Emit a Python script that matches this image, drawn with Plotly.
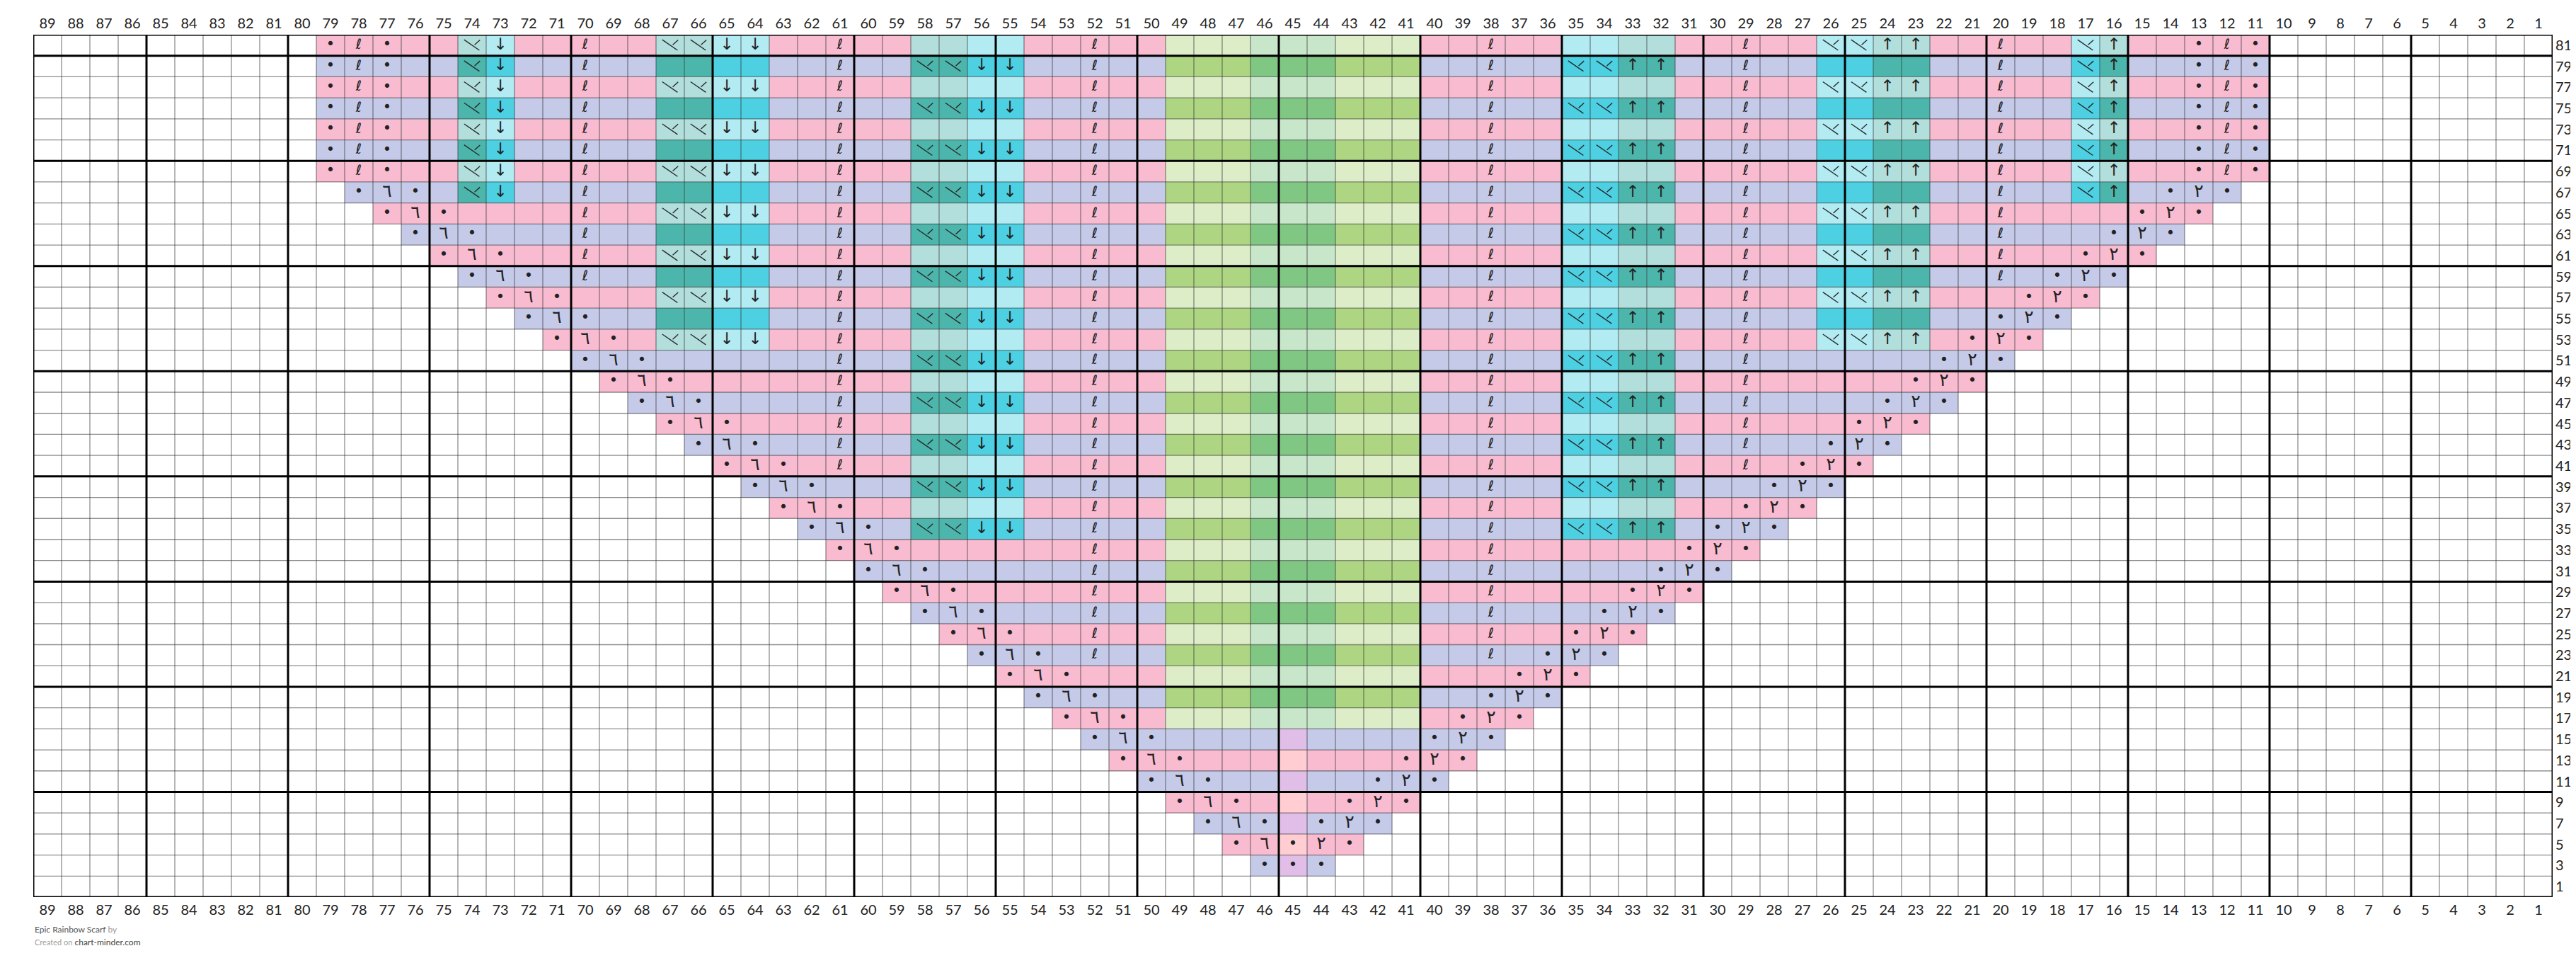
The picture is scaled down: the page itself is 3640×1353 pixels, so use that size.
import plotly.graph_objects as go

# ---------------- data ----------------
N_COLS = 89
COLUMN_LABELS = [str(c) for c in range(1, N_COLS + 1)]
ROW_NUMBERS = list(range(81, 0, -2))          # top -> bottom (odd rows only)

# cell colour codes, one string per row (top row 81 first), columns 89 -> 1,
# spaces only separate the 5-column groups
COLOR_ROWS = [
    ".... ..... .pppp ptcpp ppptt ccppp ppttc cpppp pgggh hhggg ppppp ccttp ppppc cttpp pppct ppppp ..... .....",  # 81
    ".... ..... .llll lTCll lllTT CClll llTTC Cllll lGGGH HHGGG lllll CCTTl llllC CTTll lllCT lllll ..... .....",  # 79
    ".... ..... .pppp ptcpp ppptt ccppp ppttc cpppp pgggh hhggg ppppp ccttp ppppc cttpp pppct ppppp ..... .....",  # 77
    ".... ..... .llll lTCll lllTT CClll llTTC Cllll lGGGH HHGGG lllll CCTTl llllC CTTll lllCT lllll ..... .....",  # 75
    ".... ..... .pppp ptcpp ppptt ccppp ppttc cpppp pgggh hhggg ppppp ccttp ppppc cttpp pppct ppppp ..... .....",  # 73
    ".... ..... .llll lTCll lllTT CClll llTTC Cllll lGGGH HHGGG lllll CCTTl llllC CTTll lllCT lllll ..... .....",  # 71
    ".... ..... .pppp ptcpp ppptt ccppp ppttc cpppp pgggh hhggg ppppp ccttp ppppc cttpp pppct ppppp ..... .....",  # 69
    ".... ..... ..lll lTCll lllTT CClll llTTC Cllll lGGGH HHGGG lllll CCTTl llllC CTTll lllCT llll. ..... .....",  # 67
    ".... ..... ...pp ppppp ppptt ccppp ppttc cpppp pgggh hhggg ppppp ccttp ppppc cttpp ppppp ppp.. ..... .....",  # 65
    ".... ..... ....l lllll lllTT CClll llTTC Cllll lGGGH HHGGG lllll CCTTl llllC CTTll lllll ll... ..... .....",  # 63
    ".... ..... ..... ppppp ppptt ccppp ppttc cpppp pgggh hhggg ppppp ccttp ppppc cttpp ppppp p.... ..... .....",  # 61
    ".... ..... ..... .llll lllTT CClll llTTC Cllll lGGGH HHGGG lllll CCTTl llllC CTTll lllll ..... ..... .....",  # 59
    ".... ..... ..... ..ppp ppptt ccppp ppttc cpppp pgggh hhggg ppppp ccttp ppppc cttpp pppp. ..... ..... .....",  # 57
    ".... ..... ..... ...ll lllTT CClll llTTC Cllll lGGGH HHGGG lllll CCTTl llllC CTTll lll.. ..... ..... .....",  # 55
    ".... ..... ..... ....p ppptt ccppp ppttc cpppp pgggh hhggg ppppp ccttp ppppc cttpp pp... ..... ..... .....",  # 53
    ".... ..... ..... ..... lllll lllll llTTC Cllll lGGGH HHGGG lllll CCTTl lllll lllll l.... ..... ..... .....",  # 51
    ".... ..... ..... ..... .pppp ppppp ppttc cpppp pgggh hhggg ppppp ccttp ppppp ppppp ..... ..... ..... .....",  # 49
    ".... ..... ..... ..... ..lll lllll llTTC Cllll lGGGH HHGGG lllll CCTTl lllll llll. ..... ..... ..... .....",  # 47
    ".... ..... ..... ..... ...pp ppppp ppttc cpppp pgggh hhggg ppppp ccttp ppppp ppp.. ..... ..... ..... .....",  # 45
    ".... ..... ..... ..... ....l lllll llTTC Cllll lGGGH HHGGG lllll CCTTl lllll ll... ..... ..... ..... .....",  # 43
    ".... ..... ..... ..... ..... ppppp ppttc cpppp pgggh hhggg ppppp ccttp ppppp p.... ..... ..... ..... .....",  # 41
    ".... ..... ..... ..... ..... .llll llTTC Cllll lGGGH HHGGG lllll CCTTl lllll ..... ..... ..... ..... .....",  # 39
    ".... ..... ..... ..... ..... ..ppp ppttc cpppp pgggh hhggg ppppp ccttp pppp. ..... ..... ..... ..... .....",  # 37
    ".... ..... ..... ..... ..... ...ll llTTC Cllll lGGGH HHGGG lllll CCTTl lll.. ..... ..... ..... ..... .....",  # 35
    ".... ..... ..... ..... ..... ....p ppppp ppppp pgggh hhggg ppppp ppppp pp... ..... ..... ..... ..... .....",  # 33
    ".... ..... ..... ..... ..... ..... lllll lllll lGGGH HHGGG lllll lllll l.... ..... ..... ..... ..... .....",  # 31
    ".... ..... ..... ..... ..... ..... .pppp ppppp pgggh hhggg ppppp ppppp ..... ..... ..... ..... ..... .....",  # 29
    ".... ..... ..... ..... ..... ..... ..lll lllll lGGGH HHGGG lllll llll. ..... ..... ..... ..... ..... .....",  # 27
    ".... ..... ..... ..... ..... ..... ...pp ppppp pgggh hhggg ppppp ppp.. ..... ..... ..... ..... ..... .....",  # 25
    ".... ..... ..... ..... ..... ..... ....l lllll lGGGH HHGGG lllll ll... ..... ..... ..... ..... ..... .....",  # 23
    ".... ..... ..... ..... ..... ..... ..... ppppp pgggh hhggg ppppp p.... ..... ..... ..... ..... ..... .....",  # 21
    ".... ..... ..... ..... ..... ..... ..... .llll lGGGH HHGGG lllll ..... ..... ..... ..... ..... ..... .....",  # 19
    ".... ..... ..... ..... ..... ..... ..... ..ppp pgggh hhggg pppp. ..... ..... ..... ..... ..... ..... .....",  # 17
    ".... ..... ..... ..... ..... ..... ..... ...ll lllll vllll lll.. ..... ..... ..... ..... ..... ..... .....",  # 15
    ".... ..... ..... ..... ..... ..... ..... ....p ppppp rpppp pp... ..... ..... ..... ..... ..... ..... .....",  # 13
    ".... ..... ..... ..... ..... ..... ..... ..... lllll vllll l.... ..... ..... ..... ..... ..... ..... .....",  # 11
    ".... ..... ..... ..... ..... ..... ..... ..... .pppp rpppp ..... ..... ..... ..... ..... ..... ..... .....",  # 9
    ".... ..... ..... ..... ..... ..... ..... ..... ..lll vlll. ..... ..... ..... ..... ..... ..... ..... .....",  # 7
    ".... ..... ..... ..... ..... ..... ..... ..... ...pp rpp.. ..... ..... ..... ..... ..... ..... ..... .....",  # 5
    ".... ..... ..... ..... ..... ..... ..... ..... ....l vl... ..... ..... ..... ..... ..... ..... ..... .....",  # 3
    ".... ..... ..... ..... ..... ..... ..... ..... ..... ..... ..... ..... ..... ..... ..... ..... ..... .....",  # 1
]

# stitch symbol codes, same layout
SYMBOL_ROWS = [
    ".... ..... .oqo. .kd.. q..kk dd..q ..... ...q. ..... ..... ..q.. ..... .q..K Kuu.. q..Ku ..oqo ..... .....",  # 81
    ".... ..... .oqo. .kd.. q.... ....q ..kkd d..q. ..... ..... ..q.. KKuu. .q... ..... q..Ku ..oqo ..... .....",  # 79
    ".... ..... .oqo. .kd.. q..kk dd..q ..... ...q. ..... ..... ..q.. ..... .q..K Kuu.. q..Ku ..oqo ..... .....",  # 77
    ".... ..... .oqo. .kd.. q.... ....q ..kkd d..q. ..... ..... ..q.. KKuu. .q... ..... q..Ku ..oqo ..... .....",  # 75
    ".... ..... .oqo. .kd.. q..kk dd..q ..... ...q. ..... ..... ..q.. ..... .q..K Kuu.. q..Ku ..oqo ..... .....",  # 73
    ".... ..... .oqo. .kd.. q.... ....q ..kkd d..q. ..... ..... ..q.. KKuu. .q... ..... q..Ku ..oqo ..... .....",  # 71
    ".... ..... .oqo. .kd.. q..kk dd..q ..... ...q. ..... ..... ..q.. ..... .q..K Kuu.. q..Ku ..oqo ..... .....",  # 69
    ".... ..... ..oLo .kd.. q.... ....q ..kkd d..q. ..... ..... ..q.. KKuu. .q... ..... q..Ku .oRo. ..... .....",  # 67
    ".... ..... ...oL o.... q..kk dd..q ..... ...q. ..... ..... ..q.. ..... .q..K Kuu.. q.... oRo.. ..... .....",  # 65
    ".... ..... ....o Lo... q.... ....q ..kkd d..q. ..... ..... ..q.. KKuu. .q... ..... q...o Ro... ..... .....",  # 63
    ".... ..... ..... oLo.. q..kk dd..q ..... ...q. ..... ..... ..q.. ..... .q..K Kuu.. q..oR o.... ..... .....",  # 61
    ".... ..... ..... .oLo. q.... ....q ..kkd d..q. ..... ..... ..q.. KKuu. .q... ..... q.oRo ..... ..... .....",  # 59
    ".... ..... ..... ..oLo ...kk dd..q ..... ...q. ..... ..... ..q.. ..... .q..K Kuu.. .oRo. ..... ..... .....",  # 57
    ".... ..... ..... ...oL o.... ....q ..kkd d..q. ..... ..... ..q.. KKuu. .q... ..... oRo.. ..... ..... .....",  # 55
    ".... ..... ..... ....o Lo.kk dd..q ..... ...q. ..... ..... ..q.. ..... .q..K Kuu.o Ro... ..... ..... .....",  # 53
    ".... ..... ..... ..... oLo.. ....q ..kkd d..q. ..... ..... ..q.. KKuu. .q... ...oR o.... ..... ..... .....",  # 51
    ".... ..... ..... ..... .oLo. ....q ..... ...q. ..... ..... ..q.. ..... .q... ..oRo ..... ..... ..... .....",  # 49
    ".... ..... ..... ..... ..oLo ....q ..kkd d..q. ..... ..... ..q.. KKuu. .q... .oRo. ..... ..... ..... .....",  # 47
    ".... ..... ..... ..... ...oL o...q ..... ...q. ..... ..... ..q.. ..... .q... oRo.. ..... ..... ..... .....",  # 45
    ".... ..... ..... ..... ....o Lo..q ..kkd d..q. ..... ..... ..q.. KKuu. .q..o Ro... ..... ..... ..... .....",  # 43
    ".... ..... ..... ..... ..... oLo.q ..... ...q. ..... ..... ..q.. ..... .q.oR o.... ..... ..... ..... .....",  # 41
    ".... ..... ..... ..... ..... .oLo. ..kkd d..q. ..... ..... ..q.. KKuu. ..oRo ..... ..... ..... ..... .....",  # 39
    ".... ..... ..... ..... ..... ..oLo ..... ...q. ..... ..... ..q.. ..... .oRo. ..... ..... ..... ..... .....",  # 37
    ".... ..... ..... ..... ..... ...oL o.kkd d..q. ..... ..... ..q.. KKuu. oRo.. ..... ..... ..... ..... .....",  # 35
    ".... ..... ..... ..... ..... ....o Lo... ...q. ..... ..... ..q.. ....o Ro... ..... ..... ..... ..... .....",  # 33
    ".... ..... ..... ..... ..... ..... oLo.. ...q. ..... ..... ..q.. ...oR o.... ..... ..... ..... ..... .....",  # 31
    ".... ..... ..... ..... ..... ..... .oLo. ...q. ..... ..... ..q.. ..oRo ..... ..... ..... ..... ..... .....",  # 29
    ".... ..... ..... ..... ..... ..... ..oLo ...q. ..... ..... ..q.. .oRo. ..... ..... ..... ..... ..... .....",  # 27
    ".... ..... ..... ..... ..... ..... ...oL o..q. ..... ..... ..q.. oRo.. ..... ..... ..... ..... ..... .....",  # 25
    ".... ..... ..... ..... ..... ..... ....o Lo.q. ..... ..... ..q.o Ro... ..... ..... ..... ..... ..... .....",  # 23
    ".... ..... ..... ..... ..... ..... ..... oLo.. ..... ..... ...oR o.... ..... ..... ..... ..... ..... .....",  # 21
    ".... ..... ..... ..... ..... ..... ..... .oLo. ..... ..... ..oRo ..... ..... ..... ..... ..... ..... .....",  # 19
    ".... ..... ..... ..... ..... ..... ..... ..oLo ..... ..... .oRo. ..... ..... ..... ..... ..... ..... .....",  # 17
    ".... ..... ..... ..... ..... ..... ..... ...oL o.... ..... oRo.. ..... ..... ..... ..... ..... ..... .....",  # 15
    ".... ..... ..... ..... ..... ..... ..... ....o Lo... ....o Ro... ..... ..... ..... ..... ..... ..... .....",  # 13
    ".... ..... ..... ..... ..... ..... ..... ..... oLo.. ...oR o.... ..... ..... ..... ..... ..... ..... .....",  # 11
    ".... ..... ..... ..... ..... ..... ..... ..... .oLo. ..oRo ..... ..... ..... ..... ..... ..... ..... .....",  # 9
    ".... ..... ..... ..... ..... ..... ..... ..... ..oLo .oRo. ..... ..... ..... ..... ..... ..... ..... .....",  # 7
    ".... ..... ..... ..... ..... ..... ..... ..... ...oL oRo.. ..... ..... ..... ..... ..... ..... ..... .....",  # 5
    ".... ..... ..... ..... ..... ..... ..... ..... ....o oo... ..... ..... ..... ..... ..... ..... ..... .....",  # 3
    ".... ..... ..... ..... ..... ..... ..... ..... ..... ..... ..... ..... ..... ..... ..... ..... ..... .....",  # 1
]

COLOR_CODES = [".", "p", "l", "t", "T", "c", "C", "g", "G", "h", "H", "r", "v"]
COLOR_VALUES = ["#FFFFFF", "#F8BBD0", "#C5CAE9", "#B2DFDB", "#4DB6AC", "#B2EBF2",
                "#4DD0E1", "#DCEDC8", "#AED581", "#C8E6C9", "#81C784", "#FFCDD2", "#E1BEE7"]

# text-drawn stitch symbols
SYMBOL_CODES = ["o", "q", "d", "u", "L", "R"]
SYMBOL_GLYPHS = ["•", "ℓ", "↓", "↑", "٦", "٢"]
SYMBOL_SIZES = [21, 20, 23, 23, 25, 25]
# decrease symbol (codes k / K) drawn as two strokes: cell-relative
# (x from left, y from top) end points of the long and short stroke
DECREASE_CODES = ["k", "K"]
DECREASE_STROKES = [((0.22, 0.24), (0.76, 0.74)), ((0.59, 0.48), (0.78, 0.25))]

FOOTER_TITLE = "Epic Rainbow Scarf"
FOOTER_BY = "by"
FOOTER_CREATED = "Created on"
FOOTER_SITE = "chart-minder.com"

# ---------------- build ----------------
def clean(s):
    s = s.replace(" ", "")
    assert len(s) == N_COLS, (len(s), s)
    return s

color_grid = [clean(s) for s in COLOR_ROWS]
symbol_grid = [clean(s) for s in SYMBOL_ROWS]

cols_asc = list(range(1, N_COLS + 1))
rows_asc = sorted(ROW_NUMBERS)
row_index = {r: i for i, r in enumerate(ROW_NUMBERS)}

z = []
for r in rows_asc:
    line = color_grid[row_index[r]]
    z.append([COLOR_CODES.index(line[N_COLS - c]) for c in cols_asc])

n = len(COLOR_CODES)
colorscale = []
for k, col in enumerate(COLOR_VALUES):
    colorscale.append([k / n, col])
    colorscale.append([(k + 1) / n, col])

fig = go.Figure()
fig.add_trace(go.Heatmap(
    x=cols_asc, y=rows_asc, z=z, zmin=-0.5, zmax=n - 0.5,
    colorscale=colorscale, showscale=False, hoverinfo="skip", zsmooth=False,
))

# grid lines
y_lo, y_hi = 0, 82
x_lo, x_hi = 0.5, N_COLS + 0.5
thin_x, thin_y = [], []
for i in range(N_COLS + 1):
    xv = i + 0.5
    thin_x += [xv, xv, None]
    thin_y += [y_lo, y_hi, None]
for yv in range(y_lo, y_hi + 1, 2):
    thin_x += [x_lo, x_hi, None]
    thin_y += [yv, yv, None]
fig.add_trace(go.Scatter(x=thin_x, y=thin_y, mode="lines",
                         line=dict(color="rgba(50,50,50,0.55)", width=1.3),
                         hoverinfo="skip", showlegend=False))

thick_x, thick_y = [], []
xs = [i + 0.5 for i in range(0, N_COLS, 5)] + [x_hi]
for xv in xs:
    thick_x += [xv, xv, None]
    thick_y += [y_lo, y_hi, None]
ys = list(range(0, 81, 10)) + [y_hi]
for yv in ys:
    thick_x += [x_lo, x_hi, None]
    thick_y += [yv, yv, None]
fig.add_trace(go.Scatter(x=thick_x, y=thick_y, mode="lines",
                         line=dict(color="#000000", width=3),
                         hoverinfo="skip", showlegend=False))

# decrease symbols as strokes
dx, dy = [], []
for r in ROW_NUMBERS:
    line = symbol_grid[row_index[r]]
    for j, ch in enumerate(line):
        if ch in DECREASE_CODES:
            c = N_COLS - j
            for (fx0, fy0), (fx1, fy1) in DECREASE_STROKES:
                dx += [c + 0.5 - fx0, c + 0.5 - fx1, None]
                dy += [r + 1 - 2 * fy0, r + 1 - 2 * fy1, None]
fig.add_trace(go.Scatter(x=dx, y=dy, mode="lines",
                         line=dict(color="#2a2a2a", width=1.4),
                         hoverinfo="skip", showlegend=False, xaxis="x2"))

# text symbols
for code, glyph, size in zip(SYMBOL_CODES, SYMBOL_GLYPHS, SYMBOL_SIZES):
    px, py = [], []
    for r in ROW_NUMBERS:
        line = symbol_grid[row_index[r]]
        for j, ch in enumerate(line):
            if ch == code:
                px.append(N_COLS - j)
                py.append(r)
    if px:
        fig.add_trace(go.Scatter(
            x=px, y=py, mode="text", text=[glyph] * len(px),
            textposition="middle center",
            textfont=dict(family="DejaVu Sans", size=size, color="#222222"),
            hoverinfo="skip", showlegend=False, xaxis="x2"))

tick_font = dict(family="Lato", size=20, color="#222222")
fig.update_layout(
    width=3640, height=1353,
    margin=dict(l=39, r=41, t=29, b=94),
    paper_bgcolor="white", plot_bgcolor="white",
    showlegend=False,
    xaxis=dict(range=[x_hi, x_lo], tickmode="array", tickvals=cols_asc,
               ticktext=COLUMN_LABELS, side="bottom", showgrid=False,
               zeroline=False, showline=False, ticks="", tickfont=tick_font,
               ticklabelstandoff=4, fixedrange=True),
    xaxis2=dict(range=[x_hi, x_lo], tickmode="array", tickvals=cols_asc,
                ticktext=COLUMN_LABELS, side="top", overlaying="x", anchor="y",
                showgrid=False, zeroline=False, showline=False, ticks="",
                tickfont=tick_font, ticklabelstandoff=4, fixedrange=True),
    yaxis=dict(range=[y_lo, y_hi], tickmode="array", tickvals=rows_asc,
               ticktext=[str(r) for r in rows_asc], side="right", showgrid=False,
               zeroline=False, showline=False, ticks="", tickfont=tick_font,
               ticklabelstandoff=3, fixedrange=True),
)

fig.add_annotation(
    xref="paper", yref="paper", x=0, y=-0.037, xanchor="left", yanchor="middle",
    showarrow=False, align="left",
    text=f"<span style='color:#555555'>{FOOTER_TITLE}</span> <span style='color:#9a9a9a'>{FOOTER_BY}</span>",
    font=dict(family="Lato", size=12),
)
fig.add_annotation(
    xref="paper", yref="paper", x=0, y=-0.052, xanchor="left", yanchor="middle",
    showarrow=False, align="left",
    text=f"<span style='color:#a0a0a0;font-size:11px'>{FOOTER_CREATED}</span> <span style='color:#444444'>{FOOTER_SITE}</span>",
    font=dict(family="Lato", size=12),
)

fig.write_html("out.html")
